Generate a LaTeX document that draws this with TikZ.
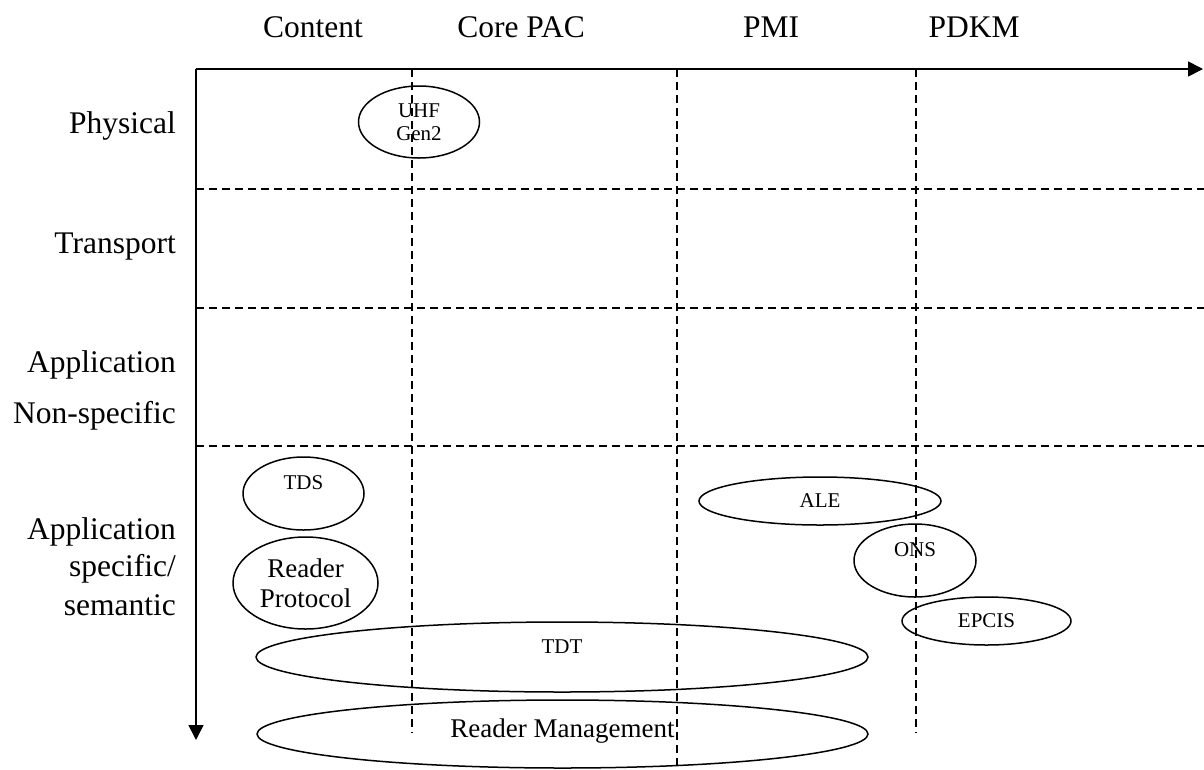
\documentclass[tikz,border=0pt]{standalone}
\usepackage{fontspec}
\setmainfont{Liberation Serif}
\usetikzlibrary{arrows.meta,shapes.geometric}

\begin{document}
\begin{tikzpicture}[x=1pt,y=-1pt,
  axis/.style={line width=1.6pt,-{Triangle[length=15pt,width=15pt]}},
  grid/.style={line width=1.4pt,dash pattern=on 8pt off 5pt},
  oval/.style={ellipse,draw,line width=1.5pt,inner sep=0pt,align=center,
    font=\fontsize{21}{23}\selectfont},
  bigoval/.style={oval,font=\fontsize{27}{30}\selectfont},
  rowlab/.style={anchor=base east,inner sep=0pt,font=\fontsize{31.5}{34}\selectfont},
  collab/.style={anchor=base,inner sep=0pt,font=\fontsize{31.5}{34}\selectfont}]

\useasboundingbox (0,0) rectangle (1204,769);

% axes and grid corners
\coordinate (O) at (196,69);
\coordinate (xend) at (1203,69);
\coordinate (yend) at (196,740);

% column dividers
\coordinate (c1t) at (412,69);  \coordinate (c1b) at (412,733);
\coordinate (c2t) at (677,69);  \coordinate (c2b) at (677,769);
\coordinate (c3t) at (916,69);  \coordinate (c3b) at (916,733);
% row dividers
\coordinate (r1l) at (196,189); \coordinate (r1r) at (1204,189);
\coordinate (r2l) at (196,308); \coordinate (r2r) at (1204,308);
\coordinate (r3l) at (196,446); \coordinate (r3r) at (1204,446);

\draw[grid] (c1t) -- (c1b);
\draw[grid] (c2t) -- (c2b);
\draw[grid] (c3t) -- (c3b);
\draw[grid] (r1l) -- (r1r);
\draw[grid] (r2l) -- (r2r);
\draw[grid] (r3l) -- (r3r);

\draw[axis] (O) -- (xend);
\draw[axis] (O) -- (yend);

% column headings
\node[collab] (hcontent) at (313,37) {Content};
\node[collab] (hcore) at (521,37) {Core PAC};
\node[collab] (hpmi) at (771,37) {PMI};
\node[collab] (hpdkm) at (974,37) {PDKM};

% row headings
\node[rowlab] (lphys) at (176,133) {Physical};
\node[rowlab] (ltrans) at (176,253) {Transport};
\node[rowlab] (lapp1) at (176,372) {Application};
\node[rowlab] (lnons) at (176,423) {Non-specific};
\node[rowlab] (lapp2) at (176,539) {Application};
\node[rowlab] (lspec) at (176,576) {specific/};
\node[rowlab] (lsem) at (176,615) {semantic};

% standards (raised labels sit above the centre of their ellipse)
\node[oval,minimum width=121pt,minimum height=72pt] (uhf) at (419,122) {UHF\\Gen2};
\node[oval,minimum width=121pt,minimum height=73pt] (tds) at (303.5,493.5) {\raisebox{22pt}{TDS}};
\node[bigoval,minimum width=145pt,minimum height=92pt] (rp) at (305.5,583) {Reader\\Protocol};
\node[oval,minimum width=242pt,minimum height=48pt] (ale) at (820,501) {ALE};
\node[oval,minimum width=122pt,minimum height=73pt] (ons) at (915,560.5) {\raisebox{21pt}{ONS}};
\node[oval,minimum width=169pt,minimum height=48pt] (epcis) at (986.5,621) {EPCIS};
\node[oval,minimum width=612pt,minimum height=70pt] (tdt) at (562,657) {\raisebox{20pt}{TDT}};
\node[bigoval,minimum width=611pt,minimum height=68pt] (rm) at (562.5,734) {\raisebox{12pt}{Reader Management}};

\end{tikzpicture}
\end{document}
